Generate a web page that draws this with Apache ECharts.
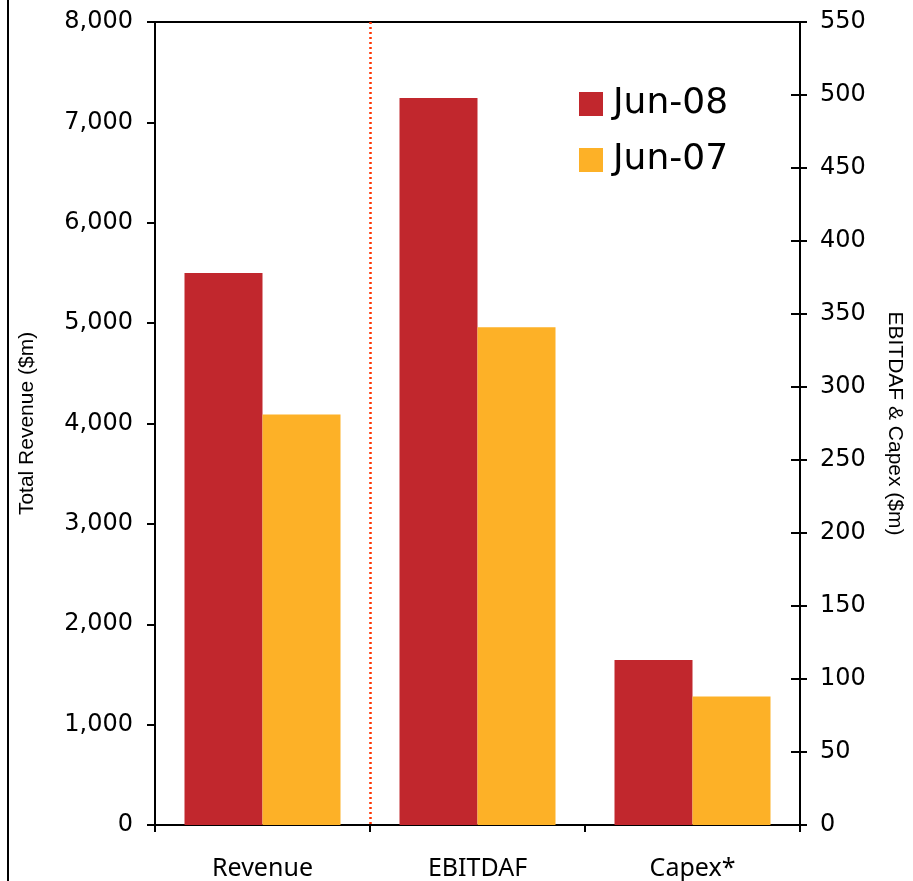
<!DOCTYPE html>
<html>
<head>
<meta charset="utf-8">
<script src="https://cdn.jsdelivr.net/npm/echarts@6/dist/echarts.min.js"></script>
<style>
  html, body { margin: 0; padding: 0; background: #fff; }
  #chart { width: 913px; height: 881px; }
</style>
</head>
<body>
<div id="chart"></div>
<script>
// Categories along the bottom
const categories = ['Revenue', 'EBITDAF', 'Capex*'];
const seriesNames = ['Jun-08', 'Jun-07'];

// Revenue is read on the left axis ($m)
const revenue08 = [5500, '-', '-'];
const revenue07 = [4090, '-', '-'];

// EBITDAF and Capex are read on the right axis ($m)
const other08 = ['-', 498, 113];
const other07 = ['-', 341, 88];

const leftMax = 8000, leftStep = 1000;
const rightMax = 550, rightStep = 50;

const RED = '#C1272D';
const GOLD = '#FDB127';
const DIVIDER = '#FF3300';

const chart = echarts.init(document.getElementById('chart'));

const tickLabel = {
  color: '#000',
  fontFamily: 'DejaVu Sans',
  fontSize: 24
};

const barCommon = {
  type: 'bar',
  barWidth: 78,
  barGap: '0%',
  silent: true
};

chart.setOption({
  animation: false,
  backgroundColor: '#fff',
  grid: {
    left: 155, right: 108, top: 22, bottom: 55,
    show: true,
    borderColor: '#000',
    borderWidth: 2,
    containLabel: false
  },
  legend: {
    data: seriesNames,
    orient: 'vertical',
    left: 579,
    top: 86,
    padding: 0,
    itemWidth: 24,
    itemHeight: 24,
    itemGap: 20,
    icon: 'rect',
    textStyle: {
      color: '#000',
      fontFamily: 'DejaVu Sans',
      fontSize: 36,
      lineHeight: 36,
      padding: [0, 0, 0, 5]
    }
  },
  graphic: [
    {
      type: 'line',
      shape: { x1: 8, y1: 0, x2: 8, y2: 881 },
      style: { stroke: '#000', lineWidth: 2 },
      silent: true
    }
  ],
  xAxis: [
    {
      type: 'category',
      data: categories,
      position: 'bottom',
      axisLine: { lineStyle: { color: '#000', width: 2 } },
      axisTick: { show: true, length: 7, lineStyle: { color: '#000', width: 2 } },
      axisLabel: {
        color: '#000',
        fontFamily: 'Noto Sans',
        fontSize: 25,
        margin: 31
      },
      // only the boundary between Revenue and EBITDAF gets the dotted divider
      splitLine: {
        show: true,
        interval: 0,
        lineStyle: {
          color: ['rgba(0,0,0,0)', DIVIDER, 'rgba(0,0,0,0)', 'rgba(0,0,0,0)'],
          type: [2, 3],
          width: 2.5
        }
      }
    },
    {
      type: 'category',
      data: categories,
      position: 'bottom',
      show: false
    }
  ],
  yAxis: [
    {
      type: 'value',
      position: 'left',
      min: 0,
      max: leftMax,
      interval: leftStep,
      name: 'Total Revenue ($m)',
      nameLocation: 'middle',
      nameRotate: 90,
      nameGap: 117,
      nameTextStyle: { color: '#000', fontFamily: 'Liberation Sans', fontSize: 21 },
      axisLine: { show: true, lineStyle: { color: '#000', width: 2 } },
      axisTick: { show: true, length: 8, lineStyle: { color: '#000', width: 2 } },
      axisLabel: Object.assign({ margin: 22 }, tickLabel),
      splitLine: { show: false }
    },
    {
      type: 'value',
      position: 'right',
      min: 0,
      max: rightMax,
      interval: rightStep,
      name: 'EBITDAF & Capex ($m)',
      nameLocation: 'middle',
      nameRotate: -90,
      nameGap: 84,
      nameTextStyle: { color: '#000', fontFamily: 'Liberation Sans', fontSize: 21 },
      axisLine: { show: true, lineStyle: { color: '#000', width: 2 } },
      axisTick: { show: true, length: 7, lineStyle: { color: '#000', width: 2 } },
      axisLabel: Object.assign({ margin: 20 }, tickLabel),
      splitLine: { show: false }
    },
    {
      // inner half of the right-hand tick marks
      type: 'value',
      position: 'right',
      min: 0,
      max: rightMax,
      interval: rightStep,
      axisLine: { show: false },
      axisTick: { show: true, inside: true, length: 9, lineStyle: { color: '#000', width: 2 } },
      axisLabel: { show: false },
      splitLine: { show: false }
    }
  ],
  series: [
    Object.assign({ name: seriesNames[0], xAxisIndex: 0, yAxisIndex: 0, data: revenue08, itemStyle: { color: RED } }, barCommon),
    Object.assign({ name: seriesNames[1], xAxisIndex: 0, yAxisIndex: 0, data: revenue07, itemStyle: { color: GOLD } }, barCommon),
    Object.assign({ name: seriesNames[0], xAxisIndex: 1, yAxisIndex: 1, data: other08, itemStyle: { color: RED } }, barCommon),
    Object.assign({ name: seriesNames[1], xAxisIndex: 1, yAxisIndex: 1, data: other07, itemStyle: { color: GOLD } }, barCommon)
  ]
});
</script>
</body>
</html>
